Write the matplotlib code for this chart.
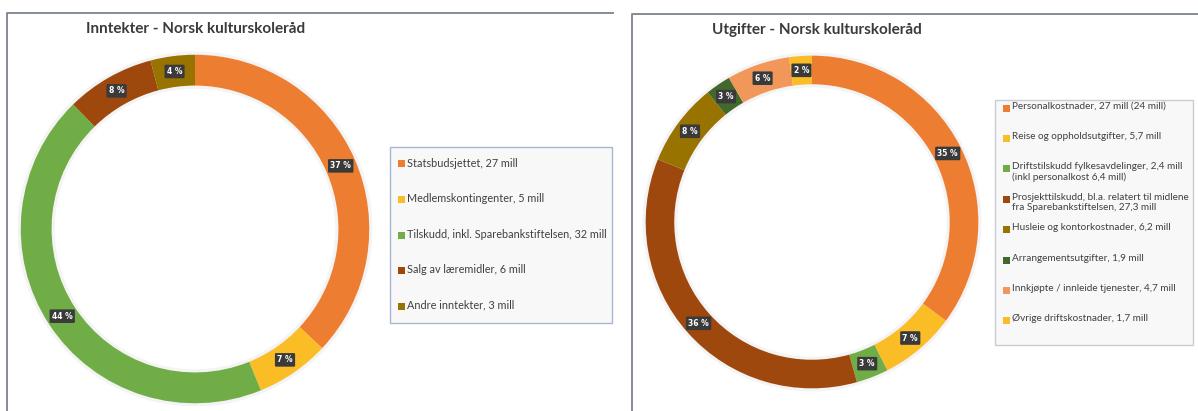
import numpy as np
import matplotlib
matplotlib.use("Agg")
import matplotlib.pyplot as plt
from matplotlib.patches import Rectangle

# data
inn_labels = ["Statsbudsjettet, 27 mill",
              "Medlemskontingenter, 5 mill",
              "Tilskudd, inkl. Sparebankstiftelsen, 32 mill",
              "Salg av læremidler, 6 mill",
              "Andre inntekter, 3 mill"]
inn_values = [27, 5, 32, 6, 3]
inn_pct = ["37 %", "7 %", "44 %", "8 %", "4 %"]

utg_labels = ["Personalkostnader, 27 mill (24 mill)",
              "Reise og oppholdsutgifter, 5,7 mill",
              "Driftstilskudd fylkesavdelinger, 2,4 mill\n(inkl personalkost 6,4 mill)",
              "Prosjekttilskudd, bl.a. relatert til midlene\nfra Sparebankstiftelsen, 27,3 mill",
              "Husleie og kontorkostnader, 6,2 mill",
              "Arrangementsutgifter, 1,9 mill",
              "Innkjøpte / innleide tjenester, 4,7 mill",
              "Øvrige driftskostnader, 1,7 mill"]
utg_values = [27, 5.7, 2.4, 27.3, 6.2, 1.9, 4.7, 1.7]
utg_pct = ["35 %", "7 %", "3 %", "36 %", "8 %", "3 %", "6 %", "2 %"]

inn_colors = ["#ED7D31", "#FBBD26", "#70AD47", "#9E480E", "#997300"]
utg_colors = ["#ED7D31", "#FBBD26", "#70AD47", "#9E480E", "#997300",
              "#43682B", "#F1975A", "#FBBD26"]

W, H = 1198, 411
plt.rcParams['font.family'] = ['Lato', 'DejaVu Sans']

fig = plt.figure(figsize=(W / 100, H / 100), dpi=100)
fig.patch.set_facecolor("white")

# overlay in pixel coordinates
bg = fig.add_axes([0, 0, 1, 1])
bg.set_xlim(0, W)
bg.set_ylim(H, 0)
bg.axis("off")

border = "#848b94"
bg.plot([7, 7, 613], [H, 13, 13], color=border, lw=1.4)
bg.plot([632, 632, W], [H, 14, 14], color=border, lw=1.4)

bg.text(86, 29, "Inntekter - Norsk kulturskoleråd", fontsize=11, fontweight="bold",
        color="#3b3b3b", va="center", ha="left")
bg.text(712, 30, "Utgifter - Norsk kulturskoleråd", fontsize=11, fontweight="bold",
        color="#3b3b3b", va="center", ha="left")


def donut(cx, cy, r, values, colors, pcts, width):
    ax = fig.add_axes([(cx - r) / W, (H - cy - r) / H, 2 * r / W, 2 * r / H])
    # faint shadow around the ring
    ax.pie([1], colors=["#f1f1f1"], radius=1.0,
           wedgeprops=dict(width=width + 0.02, edgecolor="#f4f4f4", lw=2))
    wedges, _ = ax.pie(values, colors=colors, startangle=90, counterclock=False,
                       radius=0.99, wedgeprops=dict(width=width, edgecolor="none"))
    ax.set_xlim(-1, 1)
    ax.set_ylim(-1, 1)
    ax.set_aspect("auto")
    mid = 0.99 - width / 2
    for w, p in zip(wedges, pcts):
        ang = np.deg2rad((w.theta1 + w.theta2) / 2)
        ax.text(mid * np.cos(ang), mid * np.sin(ang), p, fontsize=5.5,
                fontweight="bold", color="white", ha="center", va="center",
                family="DejaVu Sans",
                bbox=dict(boxstyle="round,pad=0.3,rounding_size=0.15",
                          fc="#3a3a3a", ec="none"))
    return wedges


def legend(x0, y0, x1, y1, labels, colors, slots, fs, edge):
    bg.add_patch(Rectangle((x0, y0), x1 - x0, y1 - y0, fc="#f8f8f8", ec=edge, lw=1.0))
    for lab, col, y in zip(labels, colors, slots):
        bg.add_patch(Rectangle((x0 + 8, y - 3.5), 7, 7, fc=col, ec="none"))
        bg.text(x0 + 17, y - 6.5, lab, fontsize=fs, color="#404040", va="top",
                ha="left", linespacing=1.2)


donut(195, 229, 176, inn_values, inn_colors, inn_pct, 0.175)
donut(812, 222, 168, utg_values, utg_colors, utg_pct, 0.17)

legend(390, 147, 612, 323, inn_labels, inn_colors,
       [164 + 35.5 * i for i in range(5)], 7.8, "#a8b6d4")
legend(995, 100, 1193, 345, utg_labels, utg_colors,
       [108 + 30.4 * i for i in range(8)], 7.2, "#c9cdd3")

fig.savefig("out.png", dpi=100)
